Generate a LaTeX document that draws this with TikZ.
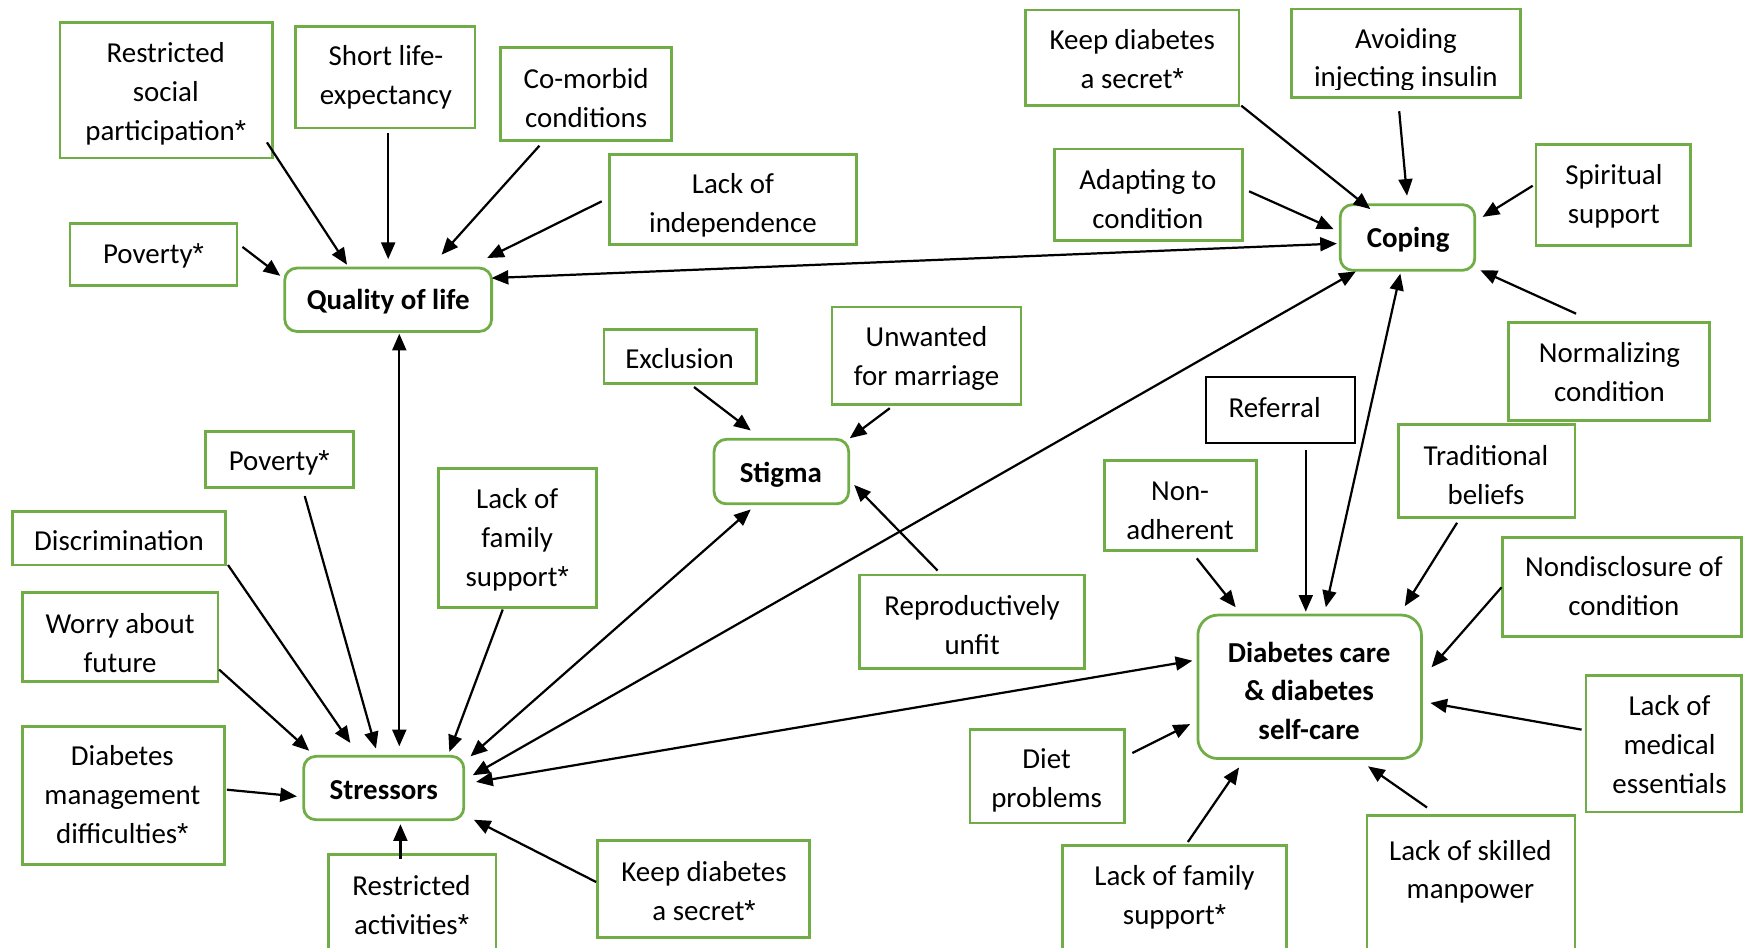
\documentclass[tikz,border=0pt]{standalone}
\usepackage{fontspec}
\setmainfont{Carlito}
\newfontfamily\astfont{Liberation Sans}
\usetikzlibrary{arrows.meta}
\definecolor{boxgreen}{RGB}{112,173,71}
\newcommand\fsz{\fontsize{26}{35}\selectfont}
\newcommand\nlb{\strut\\}
\newcommand\astk{{\astfont *}}
\tikzset{
  gbox/.style={draw=boxgreen, line width=2.5pt, inner sep=0pt},
  rbox/.style={gbox, rounded corners=11pt},
  kbox/.style={draw=black, line width=1.8pt, inner sep=0pt},
  txt/.style={font=\fsz, align=center, inner sep=0pt, anchor=north, yshift=-2pt},
  btxt/.style={txt, font=\fsz\bfseries},
  tip/.tip={Triangle[length=15pt,width=12.5pt]},
  arr/.style={line width=2pt, -tip},
  biarr/.style={line width=2pt, tip-tip},
}
\begin{document}
\begin{tikzpicture}[x=1pt,y=-1pt]
\useasboundingbox (0,0) rectangle (1568,852);
\clip (0,0) rectangle (1568,852);

% ---------- boxes ----------
% quality of life cluster
\node[gbox, minimum width=191pt, minimum height=122pt] (rsp) at (149.5,81) {};
\node[gbox, minimum width=161pt, minimum height=91pt] (sle) at (346.5,69.5) {};
\node[gbox, minimum width=154pt, minimum height=83pt] (cmc) at (527,84.5) {};
\node[gbox, minimum width=222pt, minimum height=81pt] (loi) at (659,179.5) {};
\node[gbox, minimum width=150pt, minimum height=56pt] (pov1) at (138,229) {};
\node[rbox, minimum width=186pt, minimum height=57pt] (qol) at (349,269.5) {};
% coping cluster
\node[gbox, minimum width=192pt, minimum height=86pt] (kds1) at (1018,52) {};
\node[gbox, minimum width=206pt, minimum height=80pt] (avi) at (1264,48) {};
\node[gbox, minimum width=169pt, minimum height=82pt] (atc) at (1032.5,175) {};
\node[rbox, minimum width=121pt, minimum height=59pt] (cop) at (1265.5,213.5) {};
\node[gbox, minimum width=139pt, minimum height=91pt] (sps) at (1450.5,175.5) {};
\node[gbox, minimum width=181pt, minimum height=88pt] (noc) at (1446.5,334) {};
% stigma cluster
\node[gbox, minimum width=137pt, minimum height=49pt] (exc) at (611.5,320.5) {};
\node[gbox, minimum width=170pt, minimum height=88pt] (ufm) at (833,320) {};
\node[rbox, minimum width=121pt, minimum height=58pt] (stg) at (702.5,424) {};
\node[gbox, minimum width=202pt, minimum height=84pt] (ruf) at (874,559) {};
% diabetes care cluster
\node[kbox, minimum width=134pt, minimum height=59pt] (ref) at (1151,368.5) {};
\node[gbox, minimum width=137pt, minimum height=81pt] (nad) at (1061.5,454.5) {};
\node[gbox, minimum width=159pt, minimum height=83pt] (trb) at (1336.5,423.5) {};
\node[gbox, minimum width=215pt, minimum height=89pt] (ndc) at (1458.5,527.5) {};
\node[gbox, rounded corners=18pt, minimum width=201pt, minimum height=129pt] (dcs) at (1177.5,617.5) {};
\node[gbox, minimum width=140pt, minimum height=123pt] (lme) at (1496,668.5) {};
\node[gbox, minimum width=139pt, minimum height=84pt] (dip) at (941.5,698) {};
\node[gbox, minimum width=202pt, minimum height=110pt] (lfs2) at (1056,815) {};
\node[gbox, minimum width=187pt, minimum height=137pt] (lsm) at (1322.5,801.5) {};
% stressors cluster
\node[gbox, minimum width=133pt, minimum height=50pt] (pov2) at (251.5,413) {};
\node[gbox, minimum width=192pt, minimum height=48pt] (dis) at (107,484) {};
\node[gbox, minimum width=176pt, minimum height=80pt] (waf) at (108,573) {};
\node[gbox, minimum width=182pt, minimum height=124pt] (dmd) at (111,715) {};
\node[gbox, minimum width=142pt, minimum height=125pt] (lfs1) at (465,483.5) {};
\node[rbox, minimum width=144pt, minimum height=57pt] (str) at (345,708.5) {};
\node[gbox, minimum width=151pt, minimum height=102pt] (rac) at (370.5,819) {};
\node[gbox, minimum width=191pt, minimum height=87pt] (kds2) at (632.5,799.5) {};

% ---------- texts ----------
\node[txt] (rsp-t) at (149,29.5) {Restricted\nlb social\nlb participation\astk\strut};
\node[txt] (sle-t) at (347,32.5) {Short life-\nlb expectancy\strut};
\node[txt] (cmc-t) at (527,52.5) {Co-morbid\nlb conditions\strut};
\node[txt] (loi-t) at (659,147.5) {Lack of\nlb independence\strut};
\node[txt] (pov1-t) at (138,210.5) {Poverty\astk\strut};
\node[btxt] (qol-t) at (349,251.5) {Quality of life\strut};
\node[txt] (kds1-t) at (1018,17.5) {Keep diabetes\nlb a secret\astk\strut};
\begin{scope}
  \clip (avi.north west) rectangle ([yshift=9pt]avi.south east);
  \node[txt] (avi-t) at (1264,16.5) {Avoiding\nlb injecting insulin\strut};
\end{scope}
\node[txt] (atc-t) at (1032,143.5) {Adapting to\nlb condition\strut};
\node[btxt] (cop-t) at (1266,195.5) {Coping\strut};
\node[txt] (sps-t) at (1451,139.5) {Spiritual\nlb support\strut};
\node[txt] (noc-t) at (1447,299.5) {Normalizing\nlb condition\strut};
\node[txt] (exc-t) at (611,304.5) {Exclusion\strut};
\node[txt] (ufm-t) at (833,284.5) {Unwanted\nlb for marriage\strut};
\node[btxt] (stg-t) at (702,407.5) {Stigma\strut};
\node[txt] (ruf-t) at (874,526.5) {Reproductively\nlb unfit\strut};
\node[txt] (ref-t) at (1146,348.5) {Referral\strut};
\node[txt] (nad-t) at (1061,423.5) {Non-\nlb adherent\strut};
\node[txt] (trb-t) at (1336,391.5) {Traditional\nlb beliefs\strut};
\node[txt] (ndc-t) at (1460,491.5) {Nondisclosure of\nlb condition\strut};
\node[btxt] (dcs-t) at (1177,568.5) {Diabetes care\nlb \& diabetes\nlb self-care\strut};
\node[txt] (lme-t) at (1501,616.5) {Lack of\nlb medical\nlb essentials\strut};
\node[txt] (dip-t) at (941,664.5) {Diet\nlb problems\strut};
\node[txt] (lfs2-t) at (1056,769.5) {Lack of family\nlb support\astk\strut};
\node[txt] (lsm-t) at (1322,746.5) {Lack of skilled\nlb manpower\strut};
\node[txt] (pov2-t) at (251,396.5) {Poverty\astk\strut};
\node[txt] (dis-t) at (107,468.5) {Discrimination\strut};
\node[txt] (waf-t) at (108,542.5) {Worry about\nlb future\strut};
\node[txt] (dmd-t) at (110,661.5) {Diabetes\nlb management\nlb difficulties\astk\strut};
\node[txt] (lfs1-t) at (465,430.5) {Lack of\nlb family\nlb support\astk\strut};
\node[btxt] (str-t) at (345,692.5) {Stressors\strut};
\node[txt] (rac-t) at (370,778.5) {Restricted\nlb activities\astk\strut};
\node[txt] (kds2-t) at (633,765.5) {Keep diabetes\nlb a secret\astk\strut};

% ---------- connectors ----------
% into quality of life
\draw[arr] ([shift={(90.5,47)}]rsp.center) -- ([shift={(-37,-31.5)}]qol.center);
\draw[arr] ([shift={(2.5,50.5)}]sle.center) -- ([shift={(0,-36.5)}]qol.center);
\draw[arr] ([shift={(-42,46.5)}]cmc.center) -- ([shift={(48,-40.5)}]qol.center);
\draw[arr] ([shift={(-118,1.5)}]loi.center) -- ([shift={(89,-37.5)}]qol.center);
\draw[arr] ([shift={(80,-7)}]pov1.center) -- ([shift={(-97,-21.5)}]qol.center);
\draw[biarr] ([shift={(93,-19.5)}]qol.center) -- ([shift={(-63.5,5.5)}]cop.center);
\draw[biarr] ([shift={(10,30.5)}]qol.center) -- ([shift={(14,-37.5)}]str.center);
% into coping
\draw[arr] ([shift={(98,43)}]kds1.center) -- ([shift={(-33.5,-25.5)}]cop.center);
\draw[arr] ([shift={(-6,52)}]avi.center) -- ([shift={(-0.5,-37.5)}]cop.center);
\draw[arr] ([shift={(90.5,-3)}]atc.center) -- ([shift={(-66.5,-7.5)}]cop.center);
\draw[arr] ([shift={(-72.5,-8.5)}]sps.center) -- ([shift={(67.5,-18.5)}]cop.center);
\draw[arr] ([shift={(-29.5,-52)}]noc.center) -- ([shift={(65.5,29.5)}]cop.center);
\draw[biarr] ([shift={(-6.5,32.5)}]cop.center) -- ([shift={(14.5,-71.5)}]dcs.center);
\draw[biarr] ([shift={(-46.5,30.5)}]cop.center) -- ([shift={(80,-11.5)}]str.center);
% stigma
\draw[biarr] ([shift={(-27.5,34)}]stg.center) -- ([shift={(78,-28.5)}]str.center);
\draw[arr] ([shift={(12.5,27.5)}]exc.center) -- ([shift={(-27.5,-37)}]stg.center);
\draw[arr] ([shift={(-33,47)}]ufm.center) -- ([shift={(61.5,-30)}]stg.center);
\draw[arr] ([shift={(-31,-46)}]ruf.center) -- ([shift={(65.5,12)}]stg.center);
% diabetes care
\draw[biarr] ([shift={(-105.5,-23.5)}]dcs.center) -- ([shift={(83,-5.5)}]str.center);
\draw[arr] ([shift={(23,36.5)}]ref.center) -- ([shift={(-3.5,-67.5)}]dcs.center);
\draw[arr] ([shift={(14.5,47.5)}]nad.center) -- ([shift={(-66.5,-71.5)}]dcs.center);
\draw[arr] ([shift={(-26.5,46.5)}]trb.center) -- ([shift={(85.5,-72.5)}]dcs.center);
\draw[arr] ([shift={(-108.5,0.5)}]ndc.center) -- ([shift={(109.5,-17.5)}]dcs.center);
\draw[arr] ([shift={(-74,-12.5)}]lme.center) -- ([shift={(108.5,14.5)}]dcs.center);
\draw[arr] ([shift={(76.5,-21)}]dip.center) -- ([shift={(-107.5,33.5)}]dcs.center);
\draw[arr] ([shift={(12,-58)}]lfs2.center) -- ([shift={(-63.5,72.5)}]dcs.center);
\draw[arr] ([shift={(-39.5,-75.5)}]lsm.center) -- ([shift={(52.5,71.5)}]dcs.center);
% into stressors
\draw[arr] ([shift={(22.5,33)}]pov2.center) -- ([shift={(-7,-35.5)}]str.center);
\draw[arr] ([shift={(98,24)}]dis.center) -- ([shift={(-30,-40.5)}]str.center);
\draw[arr] ([shift={(89,29)}]waf.center) -- ([shift={(-67,-33.5)}]str.center);
\draw[arr] ([shift={(93,-5)}]dmd.center) -- ([shift={(-78,7.5)}]str.center);
\draw[arr] ([shift={(-13,64.5)}]lfs1.center) -- ([shift={(59,-32.5)}]str.center);
\draw[arr] ([shift={(-10.5,-47)}]rac.center) -- ([shift={(15,32.5)}]str.center);
\draw[arr] ([shift={(-96.5,-6.5)}]kds2.center) -- ([shift={(81,28.5)}]str.center);
\end{tikzpicture}
\end{document}
